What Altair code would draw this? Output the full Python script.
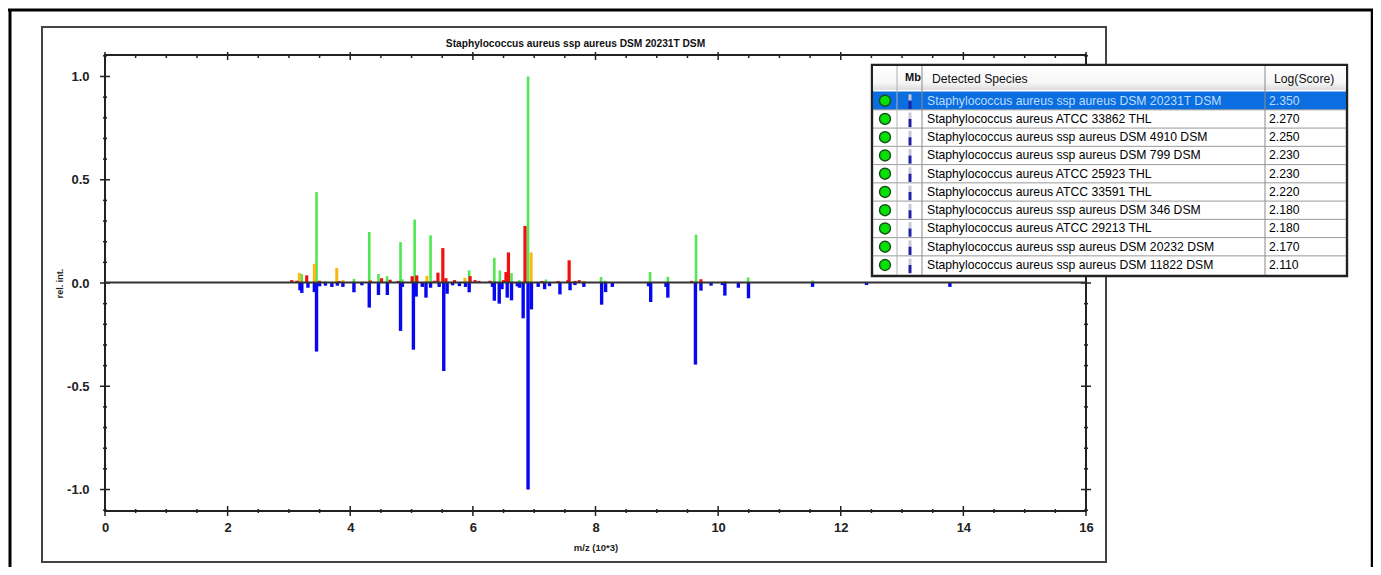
import altair as alt
import pandas as pd

# spectrum peaks: m/z (10^3) and relative intensity
green_mz = [3.21,3.45,3.59,4.06,4.31,4.46,4.60,4.82,4.85,5.05,5.31,5.94,6.35,6.44,6.63,6.755,6.90,7.19,8.09,8.155,8.89,9.18,9.64,10.49,11.54]
green_int = [.043,.44,.01,.02,.247,.043,.033,.198,.018,.307,.231,.061,.122,.061,.048,.014,1.0,.017,.029,.011,.053,.03,.234,.027,.012]
orange_mz = [3.17,3.415,3.78,3.88,5.25,5.87,6.95,7.81,10.11]
orange_int = [.048,.093,.073,.014,.035,.025,.148,.01,.01]
red_mz = [3.045,3.13,3.29,3.50,3.82,4.33,4.51,4.65,4.785,5.01,5.085,5.37,5.43,5.51,5.56,5.70,5.955,6.035,6.10,6.28,6.50,6.54,6.58,6.85,7.13,7.39,7.55,7.57,7.665,7.735,9.57,9.72]
red_int = [.014,.011,.037,.011,.009,.012,.023,.016,.01,.033,.037,.011,.05,.169,.023,.014,.033,.014,.01,.011,.014,.053,.148,.276,.01,.01,.014,.11,.01,.014,.01,.018]
blue_mz = [3.18,3.21,3.31,3.415,3.45,3.50,3.595,3.70,3.79,3.88,4.06,4.19,4.31,4.46,4.605,4.82,4.85,5.03,5.075,5.175,5.235,5.31,5.45,5.525,5.58,5.67,5.78,5.88,5.94,6.32,6.35,6.43,6.475,6.56,6.63,6.725,6.76,6.82,6.90,6.955,7.065,7.17,7.25,7.42,7.585,7.665,7.81,8.10,8.165,8.275,8.865,8.90,9.15,9.18,9.63,9.72,9.885,10.07,10.11,10.33,10.495,11.54,12.42,13.78]
blue_int = [.035,.048,.023,.044,.332,.016,.013,.019,.013,.019,.045,.011,.119,.058,.058,.232,.019,.323,.066,.019,.071,.023,.019,.426,.052,.011,.015,.019,.045,.019,.086,.1,.03,.071,.084,.016,.023,.171,1.0,.128,.019,.03,.015,.055,.035,.01,.019,.105,.044,.019,.016,.092,.019,.071,.395,.037,.013,.01,.061,.023,.074,.019,.01,.019]

x_major = [0,2,4,6,8,10,12,14,16]
x_minor = [i*0.5 for i in range(33) if i % 4 != 0]
y_major = [-1.0,-0.5,0.0,0.5,1.0]
y_minor = [round(-1.1+i*0.1,1) for i in range(23) if round(-1.1+i*0.1,1) not in y_major]

species = ["Staphylococcus aureus ssp aureus DSM 20231T DSM","Staphylococcus aureus ATCC 33862 THL",
           "Staphylococcus aureus ssp aureus DSM 4910 DSM","Staphylococcus aureus ssp aureus DSM 799 DSM",
           "Staphylococcus aureus ATCC 25923 THL","Staphylococcus aureus ATCC 33591 THL",
           "Staphylococcus aureus ssp aureus DSM 346 DSM","Staphylococcus aureus ATCC 29213 THL",
           "Staphylococcus aureus ssp aureus DSM 20232 DSM","Staphylococcus aureus ssp aureus DSM 11822 DSM"]
scores = ["2.350","2.270","2.250","2.230","2.230","2.220","2.180","2.180","2.170","2.110"]

W, H = 981, 456
OX, OY = 105, 55
CW, CH = 1365, 559
FONT = "Liberation Sans"
XS = alt.Scale(domain=[0,16], nice=False, zero=False)
YS = alt.Scale(domain=[-1.104,1.104], nice=False, zero=False)
RS = alt.Scale(domain=[0,9], range=[100.7-OY, 265-OY], nice=False, zero=False)

def px(v): return alt.value(v-OX)
def py(v): return alt.value(v-OY)

def box(x0,y0,x1,y1,fill,stroke=None,sw=0):
    kw = dict(fill=fill)
    if stroke: kw.update(stroke=stroke, strokeWidth=sw)
    return alt.Chart(pd.DataFrame({"a":[0]})).mark_rect(**kw).encode(x=px(x0),x2=px(x1),y=py(y0),y2=py(y1))

def hline(x0,x1,y,color,sw):
    return alt.Chart(pd.DataFrame({"a":[0]})).mark_rule(color=color,strokeWidth=sw).encode(x=px(x0),x2=px(x1),y=py(y))

def vline(x,y0,y1,color,sw):
    return alt.Chart(pd.DataFrame({"a":[0]})).mark_rule(color=color,strokeWidth=sw).encode(x=px(x),y=py(y0),y2=py(y1))

def peaks(mz, val, color, sw, sign=1):
    df = pd.DataFrame({"mz":mz,"v":[sign*v for v in val],"z":[0]*len(mz)})
    return alt.Chart(df).mark_rule(color=color,strokeWidth=sw).encode(
        x=alt.X("mz:Q",scale=XS,axis=None), y=alt.Y("z:Q",scale=YS,axis=None), y2="v:Q")

def xticks(vals, half, at):
    return alt.Chart(pd.DataFrame({"t":vals})).mark_rule(color="#222",strokeWidth=1.5).encode(
        x=alt.X("t:Q",scale=XS,axis=None), y=alt.value(at-half), y2=alt.value(at+half))

def yticks(vals, half, at):
    return alt.Chart(pd.DataFrame({"t":vals})).mark_rule(color="#222",strokeWidth=1.5).encode(
        y=alt.Y("t:Q",scale=YS,axis=None), x=alt.value(at-half), x2=alt.value(at+half))

axes_base = alt.Chart(pd.DataFrame({"x":[0,16],"y":[0,0]})).mark_rule(color="#333",strokeWidth=2).encode(
    x=alt.X("x:Q",scale=XS,title="m/z (10*3)",
            axis=alt.Axis(values=x_major,format="d",tickSize=0,domain=False,grid=False,labelFont=FONT,labelFontSize=13,
                          labelFontWeight="bold",labelColor="#222",labelPadding=10,labelFlush=False,titleFont=FONT,titleFontSize=9.5,
                          titleFontWeight="bold",titleColor="#222",titlePadding=8,zindex=1)),
    y=alt.Y("y:Q",scale=YS,title="rel. int.",
            axis=alt.Axis(values=y_major,format=".1f",labelExpr="replace(datum.label, '\u2212', '-')",
                          tickSize=0,domain=False,grid=False,labelFont=FONT,labelFontSize=13,labelFlush=False,
                          labelFontWeight="bold",labelColor="#222",labelPadding=16,titleFont=FONT,titleFontSize=9,
                          titleFontWeight="bold",titleColor="#222",titlePadding=2,zindex=1)))

rows = pd.DataFrame({"row":list(range(10)),"species":species,"score":scores})
rows["top"] = rows["row"]-0.5
rows["bot"] = rows["row"]+0.5
rows["icon0"] = rows["row"]-0.35
rows["icon1"] = rows["row"]+0.0
rows["icon2"] = rows["row"]+0.45
Y_ROW = alt.Y("row:Q",scale=RS,axis=None)

sel = alt.Chart(rows[rows.row==0]).mark_rect(fill="#0a6ee0").encode(
    x=px(873),x2=px(1346),y=alt.Y("top:Q",scale=RS,axis=None),y2="bot:Q")
row_lines = alt.Chart(rows[rows.row>0]).mark_rule(color="#9a9a9a",strokeWidth=1).encode(
    x=px(873),x2=px(1346),y=alt.Y("top:Q",scale=RS,axis=None))
dots = alt.Chart(rows).mark_point(filled=True,shape="circle",size=120,fill="#06e006",stroke="#174d17",strokeWidth=1.4,opacity=1).encode(
    x=px(885),y=Y_ROW)
icon_a = alt.Chart(rows).mark_rule(color="#c8c8d8",strokeWidth=3).encode(x=px(910),y=alt.Y("icon0:Q",scale=RS,axis=None),y2="icon1:Q")
icon_b = alt.Chart(rows).mark_rule(color="#1f1fa8",strokeWidth=3).encode(x=px(910),y=alt.Y("icon1:Q",scale=RS,axis=None),y2="icon2:Q")
name_black = alt.Chart(rows[rows.row>0]).mark_text(align="left",baseline="middle",font=FONT,fontSize=12.2,color="#000").encode(
    x=px(927),y=Y_ROW,text="species:N")
score_black = alt.Chart(rows[rows.row>0]).mark_text(align="left",baseline="middle",font=FONT,fontSize=12.2,color="#000").encode(
    x=px(1269),y=Y_ROW,text="score:N")
name_sel = alt.Chart(rows[rows.row==0]).mark_text(align="left",baseline="middle",font=FONT,fontSize=12.2,color="#bcdcff").encode(
    x=px(927),y=Y_ROW,text="species:N")
score_sel = alt.Chart(rows[rows.row==0]).mark_text(align="left",baseline="middle",font=FONT,fontSize=12.2,color="#bcdcff").encode(
    x=px(1269),y=Y_ROW,text="score:N")

def label(txt,x,y,size=12,weight="bold",align="left",color="#111"):
    return alt.Chart(pd.DataFrame({"t":[txt]})).mark_text(align=align,baseline="middle",font=FONT,fontSize=size,fontWeight=weight,color=color).encode(
        x=px(x),y=py(y),text="t:N")

grad = alt.LinearGradient(gradient="linear",x1=0,y1=0,x2=0,y2=1,
                          stops=[alt.GradientStop(offset=0,color="#ffffff"),alt.GradientStop(offset=0.7,color="#f6f6f6"),alt.GradientStop(offset=1,color="#dcdcdc")])

layers = [
    axes_base,
    hline(8,1373,10,"#000",3),
    vline(10,9,575,"#000",3),
    vline(1372,9,575,"#000",2.5),
    box(42,27,1106,562,"transparent","#444",2),
    label("Staphylococcus aureus ssp aureus DSM 20231T DSM",575.5,44,size=10.2,align="center"),
    box(105,55,1086,511,"transparent","#222",2),
    yticks(y_major,5,0), yticks(y_minor,2,0), yticks(y_major,5,W), yticks(y_minor,2,W),
    xticks(x_major,5,H), xticks(x_minor,2,H), xticks(x_major,4,1), xticks(x_minor,2,1),
    peaks(blue_mz,blue_int,"#0808f0",3.4,-1),
    peaks(green_mz,green_int,"#50e850",2.6),
    peaks(orange_mz,orange_int,"#fbb80f",3),
    peaks(red_mz,red_int,"#f01010",3.2),
    hline(105,1086,282.5,"#333",2),
    box(872,65,1347,276,"#ffffff","#222",2.4),
    alt.Chart(pd.DataFrame({"a":[0]})).mark_rect(fill=grad).encode(x=px(873),x2=px(1346),y=py(66),y2=py(90)),
    sel, row_lines,
    vline(897,66,275,"#b0b0b0",1), vline(922,66,275,"#8a8a8a",1), vline(1265,66,275,"#8a8a8a",1),
    dots, icon_a, icon_b, name_black, score_black, name_sel, score_sel,
    label("Mb",905,78,size=11,weight="bold"),
    label("Detected Species",932,79,size=12.2,weight="normal"),
    label("Log(Score)",1274,79,size=12.2,weight="normal"),
]

chart = alt.layer(*layers).resolve_scale(x="independent",y="independent").properties(
    width=W,height=H,autosize="none",
    padding={"left":OX-8,"top":OY-8,"right":CW-(OX-8)-W,"bottom":CH-(OY-8)-H},
).configure_view(stroke=None)

chart.save("out.html", embed_options={"renderer": "svg", "actions": False})
